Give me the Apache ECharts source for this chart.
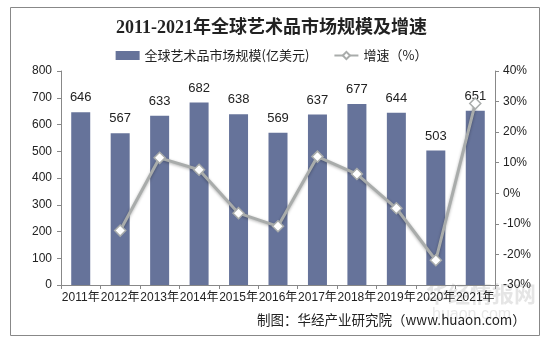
<!DOCTYPE html>
<html>
<head>
<meta charset="utf-8">
<script src="https://cdn.jsdelivr.net/npm/echarts@6/dist/echarts.min.js"></script>
<style>
html,body{margin:0;padding:0;background:#fff;}
#chart{width:543px;height:341px;}
</style>
</head>
<body>
<div id="chart"></div>
<script>
// Years on the category axis
const years = ['2011年','2012年','2013年','2014年','2015年','2016年','2017年','2018年','2019年','2020年','2021年'];
// Global art market size, 100 million USD
const marketSize = [646, 567, 633, 682, 638, 569, 637, 677, 644, 503, 651];
// Year-on-year growth, percent (no value for the first year)
const growth = [null, -12.2, 11.6, 7.7, -6.5, -10.8, 12.0, 6.3, -4.9, -21.9, 29.4];
// Axis tick settings
const leftTicks = { min: 0, max: 800, interval: 100 };
const rightTicks = { min: -30, max: 40, interval: 10 };

const chart = echarts.init(document.getElementById('chart'), null, { renderer: 'canvas' });
const axisFont = { fontFamily: 'Arial, "Liberation Sans", "Noto Sans CJK SC", sans-serif', fontSize: 12, color: '#222' };

chart.setOption({
  backgroundColor: '#fff',
  animation: false,
  title: {
    text: '2011-2021年全球艺术品市场规模及增速',
    left: 'center',
    top: 14,
    textStyle: { fontFamily: '"Liberation Serif", "Noto Sans CJK SC", serif', fontSize: 18, fontWeight: 'bold', color: '#222' }
  },
  legend: {
    top: 44,
    left: 'center',
    itemGap: 24,
    itemWidth: 24,
    itemHeight: 9,
    textStyle: { fontFamily: '"Noto Sans CJK SC", sans-serif', fontSize: 13, color: '#222' },
    data: [
      { name: '全球艺术品市场规模(亿美元)', icon: 'rect' },
      { name: '增速（%）' }
    ]
  },
  grid: { left: 61, right: 48, top: 71, bottom: 56, containLabel: false },
  xAxis: {
    type: 'category',
    data: years,
    axisLine: { lineStyle: { color: '#888' } },
    axisTick: { show: true, length: 4, lineStyle: { color: '#888' } },
    axisLabel: Object.assign({ interval: 0, margin: 7 }, axisFont)
  },
  yAxis: [
    {
      type: 'value',
      min: leftTicks.min, max: leftTicks.max, interval: leftTicks.interval,
      splitLine: { show: false },
      axisLine: { show: true, lineStyle: { color: '#888' } },
      axisTick: { show: true, length: 4, lineStyle: { color: '#888' } },
      axisLabel: Object.assign({ margin: 9 }, axisFont)
    },
    {
      type: 'value',
      min: rightTicks.min, max: rightTicks.max, interval: rightTicks.interval,
      position: 'right',
      splitLine: { show: false },
      axisLine: { show: true, lineStyle: { color: '#888' } },
      axisTick: { show: true, length: 4, lineStyle: { color: '#888' } },
      axisLabel: Object.assign({ margin: 8, formatter: '{value}%' }, axisFont)
    }
  ],
  series: [
    {
      name: '全球艺术品市场规模(亿美元)',
      type: 'bar',
      data: marketSize,
      barWidth: 19,
      itemStyle: { color: '#66739A' },
      label: {
        show: true, position: 'top', distance: 8,
        fontFamily: 'Arial, "Liberation Sans", sans-serif', fontSize: 13, color: '#222'
      }
    },
    {
      name: '增速（%）',
      type: 'line',
      yAxisIndex: 1,
      data: growth,
      symbol: 'diamond',
      symbolSize: 11,
      lineStyle: { color: '#A9ACAB', width: 3, shadowColor: 'rgba(0,0,0,0.3)', shadowBlur: 3, shadowOffsetY: 1 },
      itemStyle: { color: '#fff', borderColor: '#A9ACAB', borderWidth: 1.5 },
      z: 5
    }
  ],
  graphic: [
    {
      type: 'rect', left: 8, top: 5,
      shape: { width: 529, height: 328 },
      style: { fill: 'none', stroke: '#888', lineWidth: 1 }, silent: true
    },
    {
      type: 'text', left: 426, top: 283, z: 0,
      style: { text: '华经情报网', font: 'bold 22px "Noto Sans CJK SC", sans-serif', fill: 'rgba(150,150,150,0.25)' }
    },
    {
      type: 'text', left: 432, top: 307, z: 0,
      style: { text: 'huaon.com', font: '16px Arial, sans-serif', fill: 'rgba(150,150,150,0.22)' }
    },
    {
      type: 'text', left: 257, top: 313, z: 10,
      style: { text: '制图：华经产业研究院（www.huaon.com）', font: '13.5px "Noto Sans CJK SC", sans-serif', fill: '#222' }
    }
  ]
});
</script>
</body>
</html>
